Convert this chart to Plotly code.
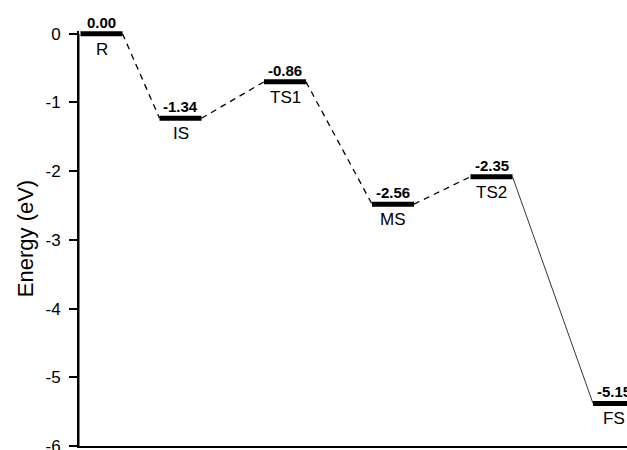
import plotly.graph_objects as go

# ---- data ----
stages = ["R", "IS", "TS1", "MS", "TS2", "FS"]
stage_x = [0.225, 1.015, 2.06, 3.14, 4.125, 5.35]        # reaction coordinate
level_y = [0.00, -1.23, -0.70, -2.48, -2.08, -5.38]      # plotted level heights (eV)
value_labels = ["0.00", "-1.34", "-0.86", "-2.56", "-2.35", "-5.15"]
y_ticks = [0, -1, -2, -3, -4, -5, -6]

HW = 0.21  # half width of a level bar (x units)
Y_MIN, Y_MAX = -6, 0.04
X_MIN, X_MAX = 0, 5.48
FONT = "Liberation Sans, Arial, sans-serif"

fig = go.Figure()

# connectors
for i in range(len(stages) - 1):
    last = i == len(stages) - 2
    fig.add_trace(go.Scatter(
        x=[stage_x[i] + HW, stage_x[i + 1] - HW],
        y=[level_y[i], level_y[i + 1]],
        mode="lines",
        line=dict(color="black", width=0.8 if last else 1.3,
                  dash="solid" if last else "6px,5px"),
        hoverinfo="skip", showlegend=False))

# level bars
for i in range(len(stages)):
    fig.add_trace(go.Scatter(
        x=[stage_x[i] - HW, stage_x[i] + HW],
        y=[level_y[i], level_y[i]],
        mode="lines",
        line=dict(color="black", width=5),
        hoverinfo="skip", showlegend=False))

annotations = []
for i in range(len(stages)):
    annotations.append(dict(
        x=stage_x[i], y=level_y[i], xref="x", yref="y",
        text="<b>%s</b>" % value_labels[i], showarrow=False,
        yanchor="bottom", yshift=1,
        font=dict(family=FONT, size=15, color="black")))
    annotations.append(dict(
        x=stage_x[i], y=level_y[i], xref="x", yref="y",
        text=stages[i], showarrow=False,
        yanchor="top", yshift=-4,
        font=dict(family=FONT, size=17, color="black")))

# vertical energy axis as a thin filled rectangle (paper x, pixel width)
top_frac = (0 - Y_MIN) / (Y_MAX - Y_MIN)
fig.add_shape(type="rect", xref="paper", yref="paper",
              xsizemode="pixel", xanchor=0, x0=-1.5, x1=0.5,
              y0=0, y1=top_frac,
              fillcolor="black", line=dict(width=0), layer="above")

fig.update_layout(
    width=627, height=450,
    margin=dict(l=79, r=0, t=31, b=4),
    paper_bgcolor="white", plot_bgcolor="white",
    annotations=annotations,
    xaxis=dict(range=[X_MIN, X_MAX], showgrid=False, zeroline=False,
               showticklabels=False, ticks="", showline=True,
               linecolor="black", linewidth=1.5, fixedrange=True,
               automargin=False),
    yaxis=dict(range=[Y_MIN, Y_MAX], tickvals=y_ticks,
               ticktext=[str(v) for v in y_ticks],
               showgrid=False, zeroline=False, showline=True,
               linecolor="black", linewidth=2,
               automargin=False,
               ticks="outside", ticklen=8, tickwidth=1.5, tickcolor="black",
               ticklabelstandoff=5, ticklabeloverflow="allow",
               tickfont=dict(family=FONT, size=17, color="black"),
               title=dict(text="Energy (eV)", standoff=6,
                          font=dict(family=FONT, size=22, color="black"))),
)

fig.write_html("out.html")
